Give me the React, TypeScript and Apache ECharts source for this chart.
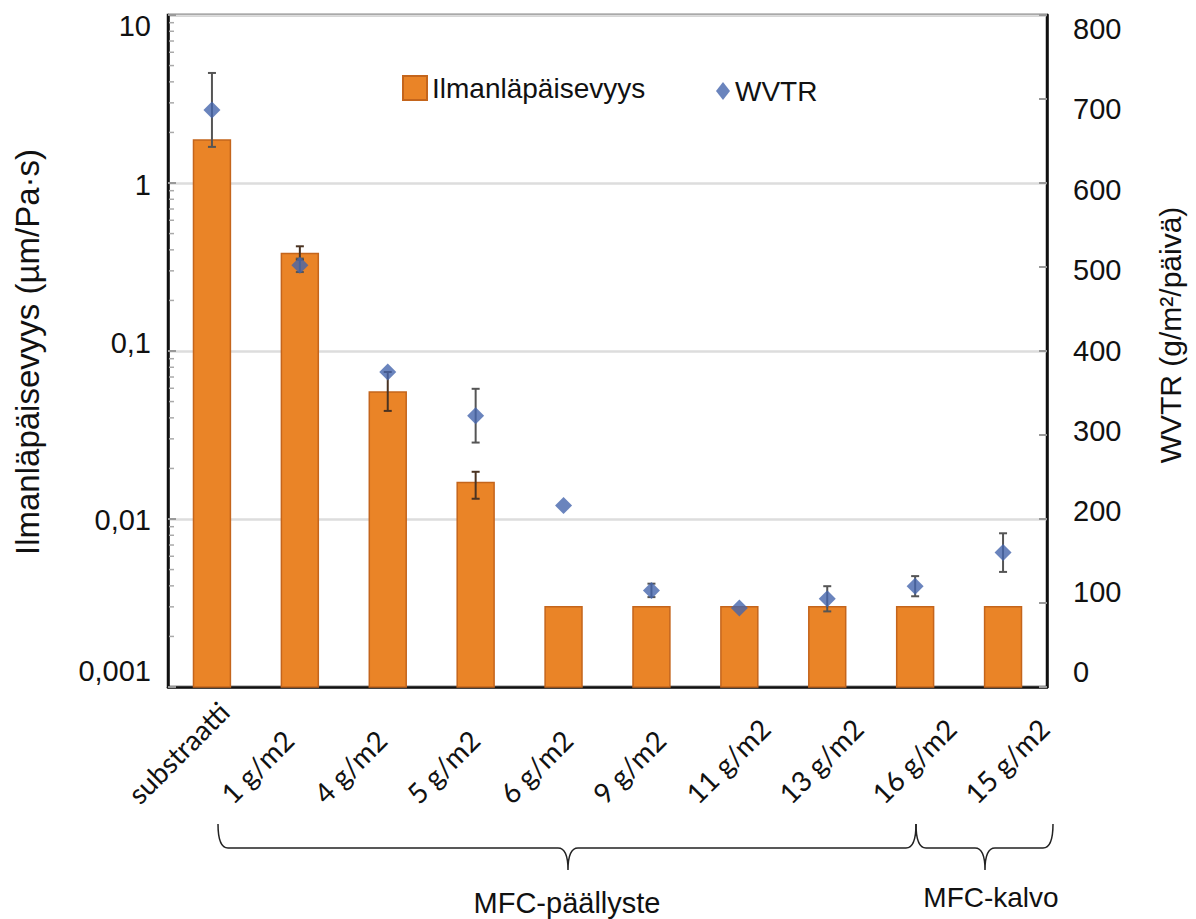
import React, { useEffect, useRef } from "react";
import * as echarts from "echarts";

const categories = ["substraatti", "1 g/m2", "4 g/m2", "5 g/m2", "6 g/m2", "9 g/m2", "11 g/m2", "13 g/m2", "16 g/m2", "15 g/m2"];
const airPermeability = [1.8, 0.38, 0.057, 0.0165, 0.003, 0.003, 0.003, 0.003, 0.003, 0.003];
const airErrLow = [null, 0.35, 0.044, 0.0132, null, null, null, null, null, null];
const airErrHigh = [null, 0.42, 0.075, 0.0191, null, null, null, null, null, null];
const wvtr = [687, 502, 375, 323, 216, 115, 94, 105, 120, 160];
const wvtrErr = [44, 8, 0, 32, 0, 8, 0, 15, 12, 23];
const leftTicks = [0.001, 0.01, 0.1, 1, 10];
const minorMultipliers = [2, 3, 4, 5, 6, 7, 8, 9];
const groupLabels = ["MFC-päällyste", "MFC-kalvo"];

const GL = 168, GR = 1047, GT = 15, GB = 687;
const LOG_MIN = 0.001;

function errorRender(color: string, cap: number) {
  return (params: any, api: any) => {
    const x = api.value(0);
    const lo = api.value(1);
    const hi = api.value(2);
    const p1 = api.coord([x, lo]);
    const p2 = api.coord([x, hi]);
    const st = { stroke: color, lineWidth: 2 };
    return {
      type: "group",
      children: [
        { type: "line", shape: { x1: p1[0], y1: p1[1], x2: p2[0], y2: p2[1] }, style: st },
        { type: "line", shape: { x1: p1[0] - cap, y1: p1[1], x2: p1[0] + cap, y2: p1[1] }, style: st },
        { type: "line", shape: { x1: p2[0] - cap, y1: p2[1], x2: p2[0] + cap, y2: p2[1] }, style: st },
      ],
    };
  };
}

function bracePath(x1: number, x2: number, tip: number, y0: number, y1: number, y2: number) {
  const r = 10;
  return `M ${x1} ${y0} Q ${x1} ${y1} ${x1 + r} ${y1} L ${tip - r} ${y1} Q ${tip} ${y1} ${tip} ${y2} Q ${tip} ${y1} ${tip + r} ${y1} L ${x2 - r} ${y1} Q ${x2} ${y1} ${x2} ${y0}`;
}

let registered = false;

function rightRichKey(v: number) {
  return "r" + v;
}

export default function App() {
  const ref = useRef<HTMLDivElement>(null);
  useEffect(() => {
    document.body.style.margin = "0";
    if (!registered) {
      echarts.graphic.registerShape("brace1", echarts.graphic.extendPath(bracePath(218, 916, 568, 824, 848, 870), {}));
      echarts.graphic.registerShape("brace2", echarts.graphic.extendPath(bracePath(916, 1053, 985, 824, 848, 870), {}));
      registered = true;
    }
    const chart = echarts.init(ref.current!, null, { renderer: "svg" });

    const airErrData: any[] = [];
    airErrLow.forEach((lo, i) => {
      if (lo != null && airErrHigh[i] != null) airErrData.push([i, lo, airErrHigh[i]]);
    });
    const wvtrErrData: any[] = [];
    wvtr.forEach((v, i) => {
      if (wvtrErr[i] > 0) wvtrErrData.push([i, v - wvtrErr[i], v + wvtrErr[i]]);
    });
    const minorData: any[] = [];
    leftTicks.slice(0, -1).forEach((d) => minorMultipliers.forEach((m) => minorData.push([0, d * m])));
    const barData = airPermeability.map((v, i) => [i, v]);

    const font = "'Liberation Sans', Arial, sans-serif";

    const rightRich: any = {};
    for (let v = 0; v <= 800; v += 100) {
      const off = -15 + (29 * v) / 800;
      rightRich[rightRichKey(v)] = {
        fontSize: 29, fontFamily: font, color: "#111",
        padding: off >= 0 ? [2 * off, 0, 0, 0] : [0, 0, -2 * off, 0],
      };
    }
    const leftOff: any = { "10": 11, "1": 2, "0.1": -8, "0.01": 1, "0.001": -16 };
    const leftRich: any = {};
    Object.keys(leftOff).forEach((k, idx) => {
      const off = leftOff[k];
      leftRich["l" + idx] = {
        fontSize: 29, fontFamily: font, color: "#111",
        padding: off >= 0 ? [2 * off, 0, 0, 0] : [0, 0, -2 * off, 0],
      };
    });

    chart.setOption({
      animation: false,
      backgroundColor: "#fff",
      grid: [
        { left: GL, right: 1196 - GR, top: GT, bottom: 919 - GB, show: true, borderColor: "#111", borderWidth: 2.5, backgroundColor: "transparent" },
        { left: 86, right: 180, top: GT, bottom: 919 - GB, show: false },
      ],
      legend: [
        {
          data: [{ name: "Ilmanläpäisevyys", icon: "rect" }],
          left: 397, top: 69, itemWidth: 24, itemHeight: 24, itemGap: 16,
          textStyle: { fontSize: 28, fontFamily: font, color: "#111" },
        },
        {
          data: [{ name: "WVTR", icon: "diamond" }],
          left: 711, top: 72, itemWidth: 14, itemHeight: 18, itemGap: 32,
          textStyle: { fontSize: 28, fontFamily: font, color: "#111" },
        },
      ],
      xAxis: [
        {
          type: "category",
          data: categories,
          gridIndex: 0,
          axisLine: { lineStyle: { color: "#111", width: 2.5 } },
          axisTick: { inside: true, length: 6, lineStyle: { color: "#aaa", width: 2 } },
          axisLabel: { show: false },
          splitLine: { show: false },
        },
        {
          type: "category",
          data: categories,
          gridIndex: 1,
          axisLine: { show: false },
          axisTick: { show: false },
          axisLabel: { rotate: 45, align: "left", fontSize: 28, fontFamily: "Lato, 'Open Sans', sans-serif", color: "#111", margin: 111, interval: 0 },
          splitLine: { show: false },
        },
      ],
      yAxis: [
        {
          type: "log",
          logBase: 10,
          min: LOG_MIN,
          max: 10,
          gridIndex: 0,
          axisLine: { show: true, lineStyle: { color: "#111", width: 2.5 } },
          axisTick: { show: true, inside: true, length: 8, lineStyle: { color: "#999", width: 2 } },
          axisLabel: {
            margin: 17,
            formatter: (v: number) => {
              const keys = Object.keys(leftOff);
              const idx = keys.findIndex((k) => Math.abs(Number(k) - v) < v * 1e-6);
              const s = String(v).replace(".", ",");
              return idx >= 0 ? `{l${idx}|${s}}` : s;
            },
            rich: leftRich,
            fontSize: 29, fontFamily: font, color: "#111",
          },
          splitLine: { show: true, lineStyle: { color: "#ddd", width: 2.5 } },
        },
        {
          type: "value",
          min: 0,
          max: 800,
          interval: 100,
          position: "right",
          gridIndex: 0,
          axisLine: { show: true, lineStyle: { color: "#111", width: 2.5 } },
          axisTick: { show: true, inside: true, length: 8, lineStyle: { color: "#999", width: 2 } },
          axisLabel: {
            margin: 26, fontSize: 29, fontFamily: font, color: "#111",
            formatter: (v: number) => `{${rightRichKey(v)}|${v}}`,
            rich: rightRich,
          },
          splitLine: { show: false },
        },
        {
          type: "value",
          gridIndex: 1,
          show: false,
        },
      ],
      series: [
        {
          name: "Ilmanläpäisevyys",
          type: "custom",
          xAxisIndex: 0,
          yAxisIndex: 0,
          data: barData,
          itemStyle: { color: "#EA8427", borderColor: "#C4651C", borderWidth: 1.5 },
          renderItem: (params: any, api: any) => {
            const i = api.value(0);
            const top = api.coord([i, api.value(1)]);
            const base = api.coord([i, LOG_MIN]);
            const w = api.size([1, 0])[0] * 0.42;
            return {
              type: "rect",
              shape: { x: top[0] - w / 2, y: top[1], width: w, height: base[1] - top[1] },
              style: { fill: "#EA8427", stroke: "#C4651C", lineWidth: 1.5 },
            };
          },
          z: 2,
        },
        {
          name: "airErr",
          type: "custom",
          xAxisIndex: 0,
          yAxisIndex: 0,
          data: airErrData,
          renderItem: errorRender("#4a3322", 4),
          z: 3,
        },
        {
          name: "minorTicks",
          type: "custom",
          xAxisIndex: 0,
          yAxisIndex: 0,
          data: minorData,
          renderItem: (params: any, api: any) => {
            const p = api.coord([0, api.value(1)]);
            return { type: "line", shape: { x1: GL + 1, y1: p[1], x2: GL + 6, y2: p[1] }, style: { stroke: "#aaa", lineWidth: 1.5 } };
          },
          z: 3,
        },
        {
          name: "wvtrErr",
          type: "custom",
          xAxisIndex: 0,
          yAxisIndex: 1,
          data: wvtrErrData,
          renderItem: errorRender("#555", 4),
          z: 4,
        },
        {
          name: "WVTR",
          type: "scatter",
          xAxisIndex: 0,
          yAxisIndex: 1,
          data: wvtr,
          symbol: "diamond",
          symbolSize: 17,
          itemStyle: { color: "#4565AD" },
          z: 5,
        },
      ],
      graphic: [
        { type: "brace1", x: 0, y: 0, style: { stroke: "#222", fill: "none", lineWidth: 1.5 } },
        { type: "brace2", x: 0, y: 0, style: { stroke: "#222", fill: "none", lineWidth: 1.5 } },
        { type: "text", x: 567, y: 903, style: { text: groupLabels[0], fontSize: 29, fontFamily: font, fill: "#111", textAlign: "center", textVerticalAlign: "middle" } },
        { type: "text", x: 991, y: 897, style: { text: groupLabels[1], fontSize: 28, fontFamily: font, fill: "#111", textAlign: "center", textVerticalAlign: "middle" } },
        { type: "text", x: 27, y: 352, rotation: Math.PI / 2, style: { text: "Ilmanläpäisevyys (µm/Pa·s)", fontSize: 33, fontFamily: font, fill: "#111", textAlign: "center", textVerticalAlign: "middle" } },
        { type: "text", x: 1170, y: 335, rotation: Math.PI / 2, style: { text: "WVTR (g/m²/päivä)", fontSize: 30, fontFamily: font, fill: "#111", textAlign: "center", textVerticalAlign: "middle" } },
      ],
    });
    return () => chart.dispose();
  }, []);
  return <div ref={ref} style={{ width: 1196, height: 919 }} />;
}
